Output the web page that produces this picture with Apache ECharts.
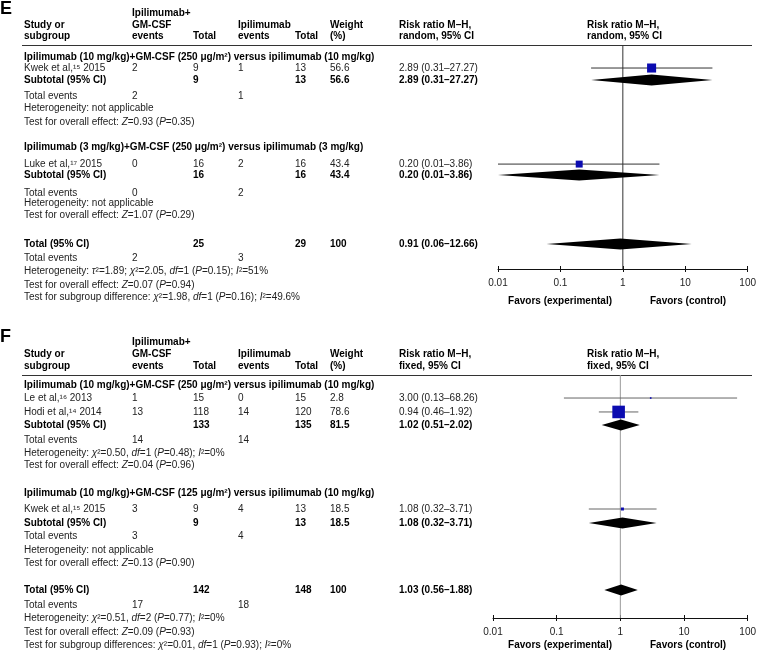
<!DOCTYPE html>
<html><head><meta charset="utf-8">
<script src="https://cdn.jsdelivr.net/npm/echarts@6/dist/echarts.min.js"></script>
<style>html,body{margin:0;padding:0;background:#fff}#c{width:759px;height:653px}</style>
</head><body><div id="c"></div>
<script>
// ================= DATA =================
const tickLabels = ['0.01', '0.1', '1', '10', '100'];
const panelLetters = ['E', 'F'];
const hdrTop = 'Ipilimumab+';
const hdrStudy = ['Study or', 'subgroup'];
const hdrExp = ['GM-CSF', 'events'];
const hdrCtl = ['Ipilimumab', 'events'];
const hdrTotal = 'Total';
const hdrWeight = ['Weight', '(%)'];
const hdrRR = 'Risk ratio M–H,';
const hdrModel = ['random, 95% CI', 'fixed, 95% CI'];
const favorsLabels = ['Favors (experimental)', 'Favors (control)'];
const lblSubtotal = 'Subtotal (95% CI)';
const lblTotal = 'Total (95% CI)';
const lblEvents = 'Total events';

// ---- Panel E ----
const eGroupTitles = ['Ipilimumab (10 mg/kg)+GM-CSF (250 μg/m²) versus ipilimumab (10 mg/kg)',
                      'Ipilimumab (3 mg/kg)+GM-CSF (250 μg/m²) versus ipilimumab (3 mg/kg)'];
const eStudyNames = ['Kwek et al,¹⁵ 2015', 'Luke et al,¹⁷ 2015'];
const eStudyGroup = [0, 1];
const eExpEvents = [2, 0];
const eExpTotal = [9, 16];
const eCtlEvents = [1, 2];
const eCtlTotal = [13, 16];
const eWeight = [56.6, 43.4];
const eRR = [2.89, 0.20];
const eLo = [0.31, 0.01];
const eHi = [27.27, 3.86];
const eSubExpTotal = [9, 16];
const eSubCtlTotal = [13, 16];
const eSubWeight = [56.6, 43.4];
const eSubRR = [2.89, 0.20];
const eSubLo = [0.31, 0.01];
const eSubHi = [27.27, 3.86];
const eSubExpEvents = [2, 0];
const eSubCtlEvents = [1, 2];
const eSubHet = ['Heterogeneity: not applicable', 'Heterogeneity: not applicable'];
const eSubTest = ['Test for overall effect: {i|Z}=0.93 ({i|P}=0.35)', 'Test for overall effect: {i|Z}=1.07 ({i|P}=0.29)'];
const eTotalN = [25, 29];
const eTotalWeight = 100;
const eTotalRR = [0.91, 0.06, 12.66];
const eTotalEvents = [2, 3];
const eTotalHet = 'Heterogeneity: {i|τ}²=1.89; {i|χ}²=2.05, {i|df}=1 ({i|P}=0.15); {i|I}²=51%';
const eTotalTest = 'Test for overall effect: {i|Z}=0.07 ({i|P}=0.94)';
const eSubDiff = 'Test for subgroup difference: {i|χ}²=1.98, {i|df}=1 ({i|P}=0.16); {i|I}²=49.6%';

// ---- Panel F ----
const fGroupTitles = ['Ipilimumab (10 mg/kg)+GM-CSF (250 μg/m²) versus ipilimumab (10 mg/kg)',
                      'Ipilimumab (10 mg/kg)+GM-CSF (125 μg/m²) versus ipilimumab (10 mg/kg)'];
const fStudyNames = ['Le et al,¹⁶ 2013', 'Hodi et al,¹⁴ 2014', 'Kwek et al,¹⁵ 2015'];
const fStudyGroup = [0, 0, 1];
const fExpEvents = [1, 13, 3];
const fExpTotal = [15, 118, 9];
const fCtlEvents = [0, 14, 4];
const fCtlTotal = [15, 120, 13];
const fWeight = [2.8, 78.6, 18.5];
const fRR = [3.00, 0.94, 1.08];
const fLo = [0.13, 0.46, 0.32];
const fHi = [68.26, 1.92, 3.71];
const fSubExpTotal = [133, 9];
const fSubCtlTotal = [135, 13];
const fSubWeight = [81.5, 18.5];
const fSubRR = [1.02, 1.08];
const fSubLo = [0.51, 0.32];
const fSubHi = [2.02, 3.71];
const fSubExpEvents = [14, 3];
const fSubCtlEvents = [14, 4];
const fSubHet = ['Heterogeneity: {i|χ}²=0.50, {i|df}=1 ({i|P}=0.48); {i|I}²=0%', 'Heterogeneity: not applicable'];
const fSubTest = ['Test for overall effect: {i|Z}=0.04 ({i|P}=0.96)', 'Test for overall effect: {i|Z}=0.13 ({i|P}=0.90)'];
const fTotalN = [142, 148];
const fTotalWeight = 100;
const fTotalRR = [1.03, 0.56, 1.88];
const fTotalEvents = [17, 18];
const fTotalHet = 'Heterogeneity: {i|χ}²=0.51, {i|df}=2 ({i|P}=0.77); {i|I}²=0%';
const fTotalTest = 'Test for overall effect: {i|Z}=0.09 ({i|P}=0.93)';
const fSubDiff = 'Test for subgroup differences: {i|χ}²=0.01, {i|df}=1 ({i|P}=0.93); {i|I}²=0%';

// ================= LAYOUT / STYLE =================
const FONT = "'Liberation Sans', Arial, Helvetica, sans-serif";
const cols = {
  study: {x: 24}, expE: {x: 132}, expT: {x: 193}, ctlE: {x: 238}, ctlT: {x: 295},
  wt: {x: 330}, rr: {x: 399}, plot: {x: 587},
  favL: {x: 612, align: 'right'}, favR: {x: 650, align: 'left'}
};
// row positions (in row units of the panel's y axis)
const layoutE = {
  yMin: -1, yMax: 17, grid: {left: 498, right: 8, top: 45, height: 224},
  hdr: [-3.57, -2.61, -1.72], group: [0, 7.2], study: [0.85, 8.57], subtotal: [1.81, 9.45],
  events: [3.1, 10.9], het: [4.06, 11.7], test: [5.19, 12.67],
  total: 15.0, totalEvents: 16.12, totalHet: 17.2, totalTest: 18.3, subDiff: 19.26, favors: 19.6,
  ci: '#333', ref: '#333'
};
const layoutF = {
  yMin: -0.8, yMax: 18.73, grid: {left: 493, right: 9, top: 375, height: 243},
  hdr: [-3.45, -2.49, -1.52], group: [0, 8.69], study: [1.05, 2.17, 9.97], subtotal: [3.22, 11.1],
  events: [4.42, 12.14], het: [5.47, 13.27], test: [6.43, 14.31],
  total: 16.48, totalEvents: 17.7, totalHet: 18.73, totalTest: 19.86, subDiff: 20.9, favors: 20.95,
  ci: '#666', ref: '#9a9a9a'
};

const fmtRR = (r, l, h) => `${r.toFixed(2)} (${l.toFixed(2)}–${h.toFixed(2)})`;

function panelData(p) {
  if (p === 0) return {
    groupTitles: eGroupTitles, studyNames: eStudyNames, studyGroup: eStudyGroup,
    expEvents: eExpEvents, expTotal: eExpTotal, ctlEvents: eCtlEvents, ctlTotal: eCtlTotal,
    weight: eWeight, rr: eRR, lo: eLo, hi: eHi,
    subExpTotal: eSubExpTotal, subCtlTotal: eSubCtlTotal, subWeight: eSubWeight,
    subRR: eSubRR, subLo: eSubLo, subHi: eSubHi, subExpEvents: eSubExpEvents, subCtlEvents: eSubCtlEvents,
    subHet: eSubHet, subTest: eSubTest, totalN: eTotalN, totalWeight: eTotalWeight, totalRR: eTotalRR,
    totalEvents: eTotalEvents, totalHet: eTotalHet, totalTest: eTotalTest, subDiff: eSubDiff
  };
  return {
    groupTitles: fGroupTitles, studyNames: fStudyNames, studyGroup: fStudyGroup,
    expEvents: fExpEvents, expTotal: fExpTotal, ctlEvents: fCtlEvents, ctlTotal: fCtlTotal,
    weight: fWeight, rr: fRR, lo: fLo, hi: fHi,
    subExpTotal: fSubExpTotal, subCtlTotal: fSubCtlTotal, subWeight: fSubWeight,
    subRR: fSubRR, subLo: fSubLo, subHi: fSubHi, subExpEvents: fSubExpEvents, subCtlEvents: fSubCtlEvents,
    subHet: fSubHet, subTest: fSubTest, totalN: fTotalN, totalWeight: fTotalWeight, totalRR: fTotalRR,
    totalEvents: fTotalEvents, totalHet: fTotalHet, totalTest: fTotalTest, subDiff: fSubDiff
  };
}

function buildText(d, L, modelText) {
  const T = [];
  const add = (row, col, text, bold) => T.push({row, col, text: String(text), bold: !!bold});
  add(L.hdr[0], 'expE', hdrTop, 1);
  add(L.hdr[1], 'study', hdrStudy[0], 1); add(L.hdr[1], 'expE', hdrExp[0], 1);
  add(L.hdr[1], 'ctlE', hdrCtl[0], 1); add(L.hdr[1], 'wt', hdrWeight[0], 1);
  add(L.hdr[1], 'rr', hdrRR, 1); add(L.hdr[1], 'plot', hdrRR, 1);
  add(L.hdr[2], 'study', hdrStudy[1], 1); add(L.hdr[2], 'expE', hdrExp[1], 1);
  add(L.hdr[2], 'expT', hdrTotal, 1); add(L.hdr[2], 'ctlE', hdrCtl[1], 1);
  add(L.hdr[2], 'ctlT', hdrTotal, 1); add(L.hdr[2], 'wt', hdrWeight[1], 1);
  add(L.hdr[2], 'rr', modelText, 1); add(L.hdr[2], 'plot', modelText, 1);
  d.groupTitles.forEach((g, gi) => {
    add(L.group[gi], 'study', g, 1);
    d.studyNames.forEach((n, si) => {
      if (d.studyGroup[si] !== gi) return;
      const r = L.study[si];
      add(r, 'study', n); add(r, 'expE', d.expEvents[si]); add(r, 'expT', d.expTotal[si]);
      add(r, 'ctlE', d.ctlEvents[si]); add(r, 'ctlT', d.ctlTotal[si]); add(r, 'wt', d.weight[si]);
      add(r, 'rr', fmtRR(d.rr[si], d.lo[si], d.hi[si]));
    });
    const r = L.subtotal[gi];
    add(r, 'study', lblSubtotal, 1); add(r, 'expT', d.subExpTotal[gi], 1); add(r, 'ctlT', d.subCtlTotal[gi], 1);
    add(r, 'wt', d.subWeight[gi], 1); add(r, 'rr', fmtRR(d.subRR[gi], d.subLo[gi], d.subHi[gi]), 1);
    add(L.events[gi], 'study', lblEvents); add(L.events[gi], 'expE', d.subExpEvents[gi]);
    add(L.events[gi], 'ctlE', d.subCtlEvents[gi]);
    add(L.het[gi], 'study', d.subHet[gi]);
    add(L.test[gi], 'study', d.subTest[gi]);
  });
  add(L.total, 'study', lblTotal, 1); add(L.total, 'expT', d.totalN[0], 1); add(L.total, 'ctlT', d.totalN[1], 1);
  add(L.total, 'wt', d.totalWeight, 1); add(L.total, 'rr', fmtRR(d.totalRR[0], d.totalRR[1], d.totalRR[2]), 1);
  add(L.totalEvents, 'study', lblEvents); add(L.totalEvents, 'expE', d.totalEvents[0]); add(L.totalEvents, 'ctlE', d.totalEvents[1]);
  add(L.totalHet, 'study', d.totalHet);
  add(L.totalTest, 'study', d.totalTest);
  add(L.subDiff, 'study', d.subDiff);
  add(L.favors, 'favL', favorsLabels[0], 1);
  add(L.favors, 'favR', favorsLabels[1], 1);
  return T;
}

const series = [], grids = [], xAxes = [], yAxes = [];
[0, 1].forEach(p => {
  const d = panelData(p);
  const L = p === 0 ? layoutE : layoutF;
  const xi = p * 2;
  grids.push(L.grid);
  const axBase = {
    type: 'log', logBase: 10, min: 0.01, max: 100, splitNumber: 4, gridIndex: p, position: 'bottom',
    splitLine: {show: false}
  };
  xAxes.push(Object.assign({}, axBase, {
    axisLine: {show: true, onZero: false, lineStyle: {color: '#111', width: 1}},
    axisTick: {show: true, length: 3, inside: false, lineStyle: {color: '#111'}},
    axisLabel: {show: true, margin: 9, fontSize: 10, color: '#222', fontFamily: FONT,
      formatter: v => tickLabels[Math.round(Math.log10(v)) + 2]}
  }));
  xAxes.push(Object.assign({}, axBase, {
    axisLine: {show: false, onZero: false},
    axisTick: {show: true, length: 3, inside: true, lineStyle: {color: '#111'}},
    axisLabel: {show: false}
  }));
  yAxes.push({type: 'value', gridIndex: p, inverse: true, min: L.yMin, max: L.yMax, show: false});

  // reference line at RR = 1
  series.push({
    type: 'line', xAxisIndex: xi, yAxisIndex: p, data: [[1, L.yMin], [1, L.yMax]],
    symbol: 'none', silent: true, lineStyle: {color: L.ref, width: 1}, z: 1
  });
  // study squares + CIs
  series.push({
    type: 'custom', xAxisIndex: xi, yAxisIndex: p, clip: false, silent: true, z: 3,
    data: d.rr.map((v, i) => [v, d.lo[i], d.hi[i], L.study[i], d.weight[i]]),
    encode: {x: [0, 1, 2], y: 3},
    renderItem(params, api) {
      const row = api.value(3);
      const c = api.coord([api.value(0), row]);
      const a = api.coord([api.value(1), row]);
      const b = api.coord([api.value(2), row]);
      const s = Math.max(1.6, 0.16 * api.value(4));
      return {type: 'group', children: [
        {type: 'line', shape: {x1: a[0], y1: a[1], x2: b[0], y2: b[1]}, style: {stroke: L.ci, lineWidth: 1}},
        {type: 'rect', shape: {x: c[0] - s / 2, y: c[1] - s / 2, width: s, height: s}, style: {fill: '#0b0bb0'}}
      ]};
    }
  });
  // diamonds for subtotals + total
  const dia = d.subRR.map((v, i) => [v, d.subLo[i], d.subHi[i], L.subtotal[i]]);
  dia.push([d.totalRR[0], d.totalRR[1], d.totalRR[2], L.total]);
  series.push({
    type: 'custom', xAxisIndex: xi, yAxisIndex: p, clip: false, silent: true, z: 4,
    data: dia, encode: {x: [0, 1, 2], y: 3},
    renderItem(params, api) {
      const row = api.value(3);
      const c = api.coord([api.value(0), row]);
      const a = api.coord([api.value(1), row]);
      const b = api.coord([api.value(2), row]);
      const h = 5.5;
      return {type: 'polygon', shape: {points: [[a[0], a[1]], [c[0], c[1] - h], [b[0], b[1]], [c[0], c[1] + h]]},
        style: {fill: '#000'}};
    }
  });
  // table text
  const items = buildText(d, L, hdrModel[p]);
  series.push({
    type: 'custom', xAxisIndex: xi, yAxisIndex: p, clip: false, silent: true, z: 5,
    data: items.map(it => [1, it.row]), encode: {x: 0, y: 1},
    renderItem(params, api) {
      const it = items[params.dataIndex];
      const y = api.coord([1, api.value(1)])[1];
      const c = cols[it.col];
      return {type: 'text', x: c.x, y: y, style: {
        text: it.text, fill: it.bold ? '#000' : '#222', fontSize: 10, fontFamily: FONT,
        fontWeight: it.bold ? 'bold' : 'normal', align: c.align || 'left', verticalAlign: 'middle',
        rich: {i: {fontStyle: 'italic', fontSize: 10, fontFamily: FONT, fill: '#222'}}
      }};
    }
  });
});

const chart = echarts.init(document.getElementById('c'), null, {renderer: 'canvas'});
chart.setOption({
  backgroundColor: '#fff',
  animation: false,
  grid: grids,
  xAxis: xAxes,
  yAxis: yAxes,
  series: series,
  graphic: [
    {type: 'text', left: 0, top: 0, style: {text: panelLetters[0], fontSize: 18, fontWeight: 'bold', fontFamily: FONT, fill: '#000'}},
    {type: 'text', left: 0, top: 328, style: {text: panelLetters[1], fontSize: 18, fontWeight: 'bold', fontFamily: FONT, fill: '#000'}},
    {type: 'line', shape: {x1: 22, y1: 45.5, x2: 752, y2: 45.5}, style: {stroke: '#333', lineWidth: 1}},
    {type: 'line', shape: {x1: 22, y1: 375.5, x2: 752, y2: 375.5}, style: {stroke: '#333', lineWidth: 1}}
  ]
});
</script>
</body></html>
